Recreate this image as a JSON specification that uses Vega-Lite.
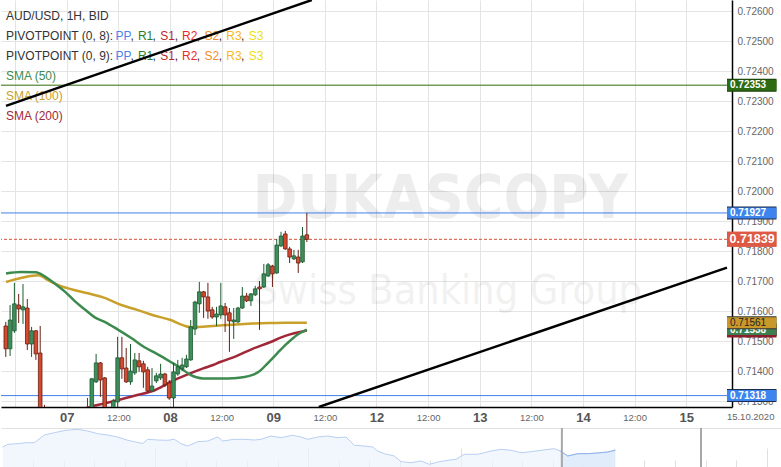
{
 "$schema": "https://vega.github.io/schema/vega-lite/v6.json",
 "padding": 0,
 "spacing": 3,
 "background": "#ffffff",
 "config": {"view": {"stroke": null}, "font": "Liberation Sans", "axis": {"labelOverlap": false}},
 "datasets": {
  "candles": [
   {"t":-14.2,"o":0.7155,"h":0.71564,"l":0.71447,"c":0.71474},
   {"t":-13.2,"o":0.71474,"h":0.7162,"l":0.7145,"c":0.7157},
   {"t":-12.2,"o":0.71534,"h":0.71694,"l":0.71527,"c":0.71624},
   {"t":-11.2,"o":0.7162,"h":0.71657,"l":0.7156,"c":0.71607},
   {"t":-10.2,"o":0.71604,"h":0.7169,"l":0.71557,"c":0.71614},
   {"t":-9.2,"o":0.7161,"h":0.7164,"l":0.7147,"c":0.7149},
   {"t":-8.2,"o":0.7149,"h":0.71547,"l":0.71447,"c":0.71534},
   {"t":-7.2,"o":0.71534,"h":0.71537,"l":0.71437,"c":0.71457},
   {"t":-6.2,"o":0.7146,"h":0.7155,"l":0.7122,"c":0.7124},
   {"t":-5.2,"o":0.7126,"h":0.71287,"l":0.712,"c":0.7123},
   {"t":4.8,"o":0.7125,"h":0.7131,"l":0.7122,"c":0.7127},
   {"t":5.8,"o":0.7125,"h":0.71377,"l":0.7123,"c":0.71374},
   {"t":6.8,"o":0.71364,"h":0.71457,"l":0.7136,"c":0.71427},
   {"t":7.8,"o":0.71427,"h":0.7143,"l":0.71314,"c":0.7137},
   {"t":8.8,"o":0.71377,"h":0.7138,"l":0.7122,"c":0.7125},
   {"t":10.8,"o":0.7126,"h":0.71307,"l":0.7124,"c":0.713},
   {"t":11.8,"o":0.71297,"h":0.71514,"l":0.7128,"c":0.71444},
   {"t":12.8,"o":0.71444,"h":0.71514,"l":0.71374,"c":0.71407},
   {"t":13.8,"o":0.7141,"h":0.71477,"l":0.7136,"c":0.71364},
   {"t":14.8,"o":0.71364,"h":0.7149,"l":0.71354,"c":0.714},
   {"t":15.8,"o":0.71394,"h":0.7146,"l":0.71387,"c":0.71437},
   {"t":16.8,"o":0.71434,"h":0.7146,"l":0.71397,"c":0.71414},
   {"t":17.8,"o":0.71424,"h":0.71434,"l":0.71344,"c":0.71397},
   {"t":18.8,"o":0.71404,"h":0.71414,"l":0.7133,"c":0.71334},
   {"t":19.8,"o":0.71334,"h":0.7141,"l":0.7133,"c":0.7135},
   {"t":20.8,"o":0.71367,"h":0.71394,"l":0.7136,"c":0.71384},
   {"t":21.8,"o":0.71377,"h":0.71424,"l":0.7137,"c":0.7139},
   {"t":22.8,"o":0.7139,"h":0.71394,"l":0.71347,"c":0.71354},
   {"t":23.8,"o":0.7136,"h":0.7137,"l":0.71304,"c":0.7131},
   {"t":24.8,"o":0.7131,"h":0.71427,"l":0.7127,"c":0.71397},
   {"t":25.8,"o":0.7139,"h":0.71437,"l":0.71384,"c":0.71414},
   {"t":26.8,"o":0.71407,"h":0.71444,"l":0.714,"c":0.7142},
   {"t":27.8,"o":0.71414,"h":0.71454,"l":0.7141,"c":0.7144},
   {"t":28.8,"o":0.71437,"h":0.7157,"l":0.71434,"c":0.71547},
   {"t":29.8,"o":0.7154,"h":0.71634,"l":0.7152,"c":0.7163},
   {"t":30.8,"o":0.71624,"h":0.71697,"l":0.71594,"c":0.71664},
   {"t":31.8,"o":0.71664,"h":0.71667,"l":0.71577,"c":0.71647},
   {"t":32.8,"o":0.71647,"h":0.71694,"l":0.71574,"c":0.716},
   {"t":33.8,"o":0.71604,"h":0.71614,"l":0.71574,"c":0.7158},
   {"t":34.8,"o":0.7158,"h":0.71614,"l":0.7155,"c":0.7159},
   {"t":35.8,"o":0.71587,"h":0.71694,"l":0.71574,"c":0.71617},
   {"t":36.8,"o":0.71614,"h":0.71627,"l":0.7153,"c":0.71587},
   {"t":37.8,"o":0.71594,"h":0.7161,"l":0.71464,"c":0.71567},
   {"t":38.8,"o":0.71564,"h":0.7161,"l":0.71507,"c":0.7157},
   {"t":39.8,"o":0.71564,"h":0.71614,"l":0.7156,"c":0.7161},
   {"t":40.8,"o":0.7161,"h":0.7168,"l":0.71607,"c":0.7165},
   {"t":41.8,"o":0.7165,"h":0.7166,"l":0.7163,"c":0.71634},
   {"t":42.8,"o":0.71634,"h":0.7166,"l":0.71617,"c":0.71657},
   {"t":43.8,"o":0.71654,"h":0.71684,"l":0.7165,"c":0.71674},
   {"t":44.8,"o":0.7168,"h":0.717,"l":0.71537,"c":0.71674},
   {"t":45.8,"o":0.7168,"h":0.71757,"l":0.71677,"c":0.71724},
   {"t":46.8,"o":0.71717,"h":0.7176,"l":0.71714,"c":0.71754},
   {"t":47.8,"o":0.7175,"h":0.71754,"l":0.7168,"c":0.71724},
   {"t":48.8,"o":0.71727,"h":0.7184,"l":0.71724,"c":0.7182},
   {"t":49.8,"o":0.71817,"h":0.71864,"l":0.71814,"c":0.7185},
   {"t":50.8,"o":0.71857,"h":0.71867,"l":0.71804,"c":0.71807},
   {"t":51.8,"o":0.71807,"h":0.71814,"l":0.7176,"c":0.7178},
   {"t":52.8,"o":0.71774,"h":0.71804,"l":0.7177,"c":0.71784},
   {"t":53.8,"o":0.7178,"h":0.71804,"l":0.71727,"c":0.7176},
   {"t":54.8,"o":0.71764,"h":0.7188,"l":0.7176,"c":0.7185},
   {"t":55.8,"o":0.71854,"h":0.71927,"l":0.7183,"c":0.71839}
  ],
  "sma": [
   {"s":"SMA200","t":1.9,"v":0.71265},
   {"s":"SMA200","t":5.8,"v":0.71282},
   {"s":"SMA200","t":8.78,"v":0.71292},
   {"s":"SMA200","t":11.08,"v":0.713},
   {"s":"SMA200","t":16.35,"v":0.7132},
   {"s":"SMA200","t":20.25,"v":0.71335},
   {"s":"SMA200","t":24.15,"v":0.71364},
   {"s":"SMA200","t":27.82,"v":0.71387},
   {"s":"SMA200","t":31.72,"v":0.71409},
   {"s":"SMA200","t":34.01,"v":0.7142},
   {"s":"SMA200","t":35.62,"v":0.7143},
   {"s":"SMA200","t":39.29,"v":0.71449},
   {"s":"SMA200","t":43.19,"v":0.71474},
   {"s":"SMA200","t":47.09,"v":0.71495},
   {"s":"SMA200","t":50.76,"v":0.71517},
   {"s":"SMA200","t":55.8,"v":0.71535},
   {"s":"SMA100","t":-14.15,"v":0.71697},
   {"s":"SMA100","t":-10.71,"v":0.7171},
   {"s":"SMA100","t":-7.96,"v":0.71718},
   {"s":"SMA100","t":-6.58,"v":0.71719},
   {"s":"SMA100","t":-4.29,"v":0.71702},
   {"s":"SMA100","t":-1.54,"v":0.71684},
   {"s":"SMA100","t":1.22,"v":0.71672},
   {"s":"SMA100","t":4.89,"v":0.71659},
   {"s":"SMA100","t":8.78,"v":0.71644},
   {"s":"SMA100","t":12.68,"v":0.7162},
   {"s":"SMA100","t":16.35,"v":0.71604},
   {"s":"SMA100","t":20.25,"v":0.71585},
   {"s":"SMA100","t":24.15,"v":0.7157},
   {"s":"SMA100","t":27.13,"v":0.71552},
   {"s":"SMA100","t":28.74,"v":0.71546},
   {"s":"SMA100","t":30.57,"v":0.71547},
   {"s":"SMA100","t":34.01,"v":0.7155},
   {"s":"SMA100","t":39.29,"v":0.71555},
   {"s":"SMA100","t":43.19,"v":0.71558},
   {"s":"SMA100","t":47.09,"v":0.7156},
   {"s":"SMA100","t":50.76,"v":0.71561},
   {"s":"SMA100","t":55.8,"v":0.71561},
   {"s":"SMA50","t":-14.15,"v":0.71725},
   {"s":"SMA50","t":-10.71,"v":0.7173},
   {"s":"SMA50","t":-7.27,"v":0.71729},
   {"s":"SMA50","t":-4.98,"v":0.71714},
   {"s":"SMA50","t":-2.68,"v":0.7169},
   {"s":"SMA50","t":-0.39,"v":0.71664},
   {"s":"SMA50","t":1.9,"v":0.71632},
   {"s":"SMA50","t":4.2,"v":0.71605},
   {"s":"SMA50","t":6.49,"v":0.71579},
   {"s":"SMA50","t":8.78,"v":0.71564},
   {"s":"SMA50","t":11.77,"v":0.71539},
   {"s":"SMA50","t":14.98,"v":0.7151},
   {"s":"SMA50","t":17.96,"v":0.7148},
   {"s":"SMA50","t":20.94,"v":0.71457},
   {"s":"SMA50","t":24.15,"v":0.7143},
   {"s":"SMA50","t":26.44,"v":0.7141},
   {"s":"SMA50","t":28.74,"v":0.71387},
   {"s":"SMA50","t":30.11,"v":0.71379},
   {"s":"SMA50","t":31.72,"v":0.71375},
   {"s":"SMA50","t":34.01,"v":0.71375},
   {"s":"SMA50","t":36.31,"v":0.71375},
   {"s":"SMA50","t":38.6,"v":0.71376},
   {"s":"SMA50","t":40.9,"v":0.71379},
   {"s":"SMA50","t":43.19,"v":0.71387},
   {"s":"SMA50","t":44.79,"v":0.71399},
   {"s":"SMA50","t":46.63,"v":0.71425},
   {"s":"SMA50","t":48.92,"v":0.71459},
   {"s":"SMA50","t":51.22,"v":0.71492},
   {"s":"SMA50","t":53.51,"v":0.7152},
   {"s":"SMA50","t":55.8,"v":0.71538}
  ],
  "trend": [
   {"line":"upper","t":-14.15,"v":0.72284},
   {"line":"upper","t":56.95,"v":0.72637},
   {"line":"lower","t":58.6,"v":0.7128},
   {"line":"lower","t":153.5,"v":0.71745}
  ],
  "tags": [
   {"name":"R1","price":0.72353},
   {"name":"PP9","price":0.71927},
   {"name":"PP8","price":0.71318},
   {"name":"BID","price":0.71839},
   {"name":"SMA200","price":0.71533},
   {"name":"SMA50","price":0.71538},
   {"name":"SMA100","price":0.71561}
  ],
  "legend": [
   {"row":"r0","text":"AUD/USD, 1H, BID","kind":"plain"},
   {"row":"r1","text":"PIVOTPOINT (0, 8):","kind":"plain"},
   {"row":"r2","text":"PIVOTPOINT (0, 9):","kind":"plain"},
   {"row":"r3","text":"SMA (50)","kind":"SMA50"},
   {"row":"r4","text":"SMA (100)","kind":"SMA100"},
   {"row":"r5","text":"SMA (200)","kind":"SMA200"}
  ],
  "pivots": [
   {"row":"r1","item":"PP"},{"row":"r1","item":"R1"},{"row":"r1","item":"S1"},{"row":"r1","item":"R2"},{"row":"r1","item":"S2"},{"row":"r1","item":"R3"},{"row":"r1","item":"S3"},
   {"row":"r2","item":"PP"},{"row":"r2","item":"R1"},{"row":"r2","item":"S1"},{"row":"r2","item":"R2"},{"row":"r2","item":"S2"},{"row":"r2","item":"R3"},{"row":"r2","item":"S3"}
  ],
  "watermark": [{"brand":"DUKASCOPY","tagline":"Swiss Banking Group"}],
  "stamp": [{"date":"15.10.2020"}],
  "nav": [
   {"d":0.009,"v":0.721},{"d":0.172,"v":0.7237},{"d":0.5,"v":0.7243},{"d":0.771,"v":0.7253},{"d":1.043,"v":0.7253},
   {"d":1.37,"v":0.733},{"d":1.697,"v":0.7353},{"d":2.08,"v":0.7377},{"d":2.462,"v":0.7387},{"d":2.789,"v":0.737},
   {"d":3.116,"v":0.7343},{"d":3.444,"v":0.733},{"d":3.771,"v":0.731},{"d":4.098,"v":0.7277},{"d":4.314,"v":0.7263},
   {"d":4.589,"v":0.7245},{"d":4.752,"v":0.7287},{"d":5.079,"v":0.728},{"d":5.406,"v":0.7277},{"d":5.622,"v":0.7287},
   {"d":5.841,"v":0.7243},{"d":6.06,"v":0.722},{"d":6.388,"v":0.7263},{"d":6.715,"v":0.727},{"d":7.042,"v":0.731},
   {"d":7.205,"v":0.727},{"d":7.585,"v":0.7287},{"d":7.912,"v":0.7287},{"d":8.239,"v":0.728},{"d":8.458,"v":0.7287},
   {"d":8.785,"v":0.732},{"d":9.112,"v":0.7303},{"d":9.495,"v":0.7327},{"d":9.767,"v":0.731},{"d":9.986,"v":0.7287},
   {"d":10.313,"v":0.731},{"d":10.64,"v":0.732},{"d":10.967,"v":0.7303},{"d":11.239,"v":0.731},{"d":11.51,"v":0.7227},
   {"d":11.837,"v":0.722},{"d":12.112,"v":0.721},{"d":12.276,"v":0.717},{"d":12.492,"v":0.7143},{"d":12.819,"v":0.712},
   {"d":13.038,"v":0.7063},{"d":13.365,"v":0.7053},{"d":13.692,"v":0.707},{"d":13.964,"v":0.7037},{"d":14.239,"v":0.706},
   {"d":14.566,"v":0.7077},{"d":14.837,"v":0.7087},{"d":15.109,"v":0.7137},{"d":15.547,"v":0.7137},{"d":15.763,"v":0.7153},
   {"d":15.982,"v":0.717},{"d":16.309,"v":0.7187},{"d":16.636,"v":0.7177},{"d":16.963,"v":0.7153},{"d":17.29,"v":0.7163},
   {"d":17.617,"v":0.7177},{"d":18.052,"v":0.7193},{"d":18.249,"v":0.717},{"d":18.491,"v":0.712},{"d":18.818,"v":0.7143},
   {"d":19.145,"v":0.7143},{"d":19.472,"v":0.715},{"d":19.798,"v":0.716},{"d":20.047,"v":0.7177}
  ],
  "navWindow": [{"edge":"from","d":18.3},{"edge":"to","d":22.85}]
 },
 "vconcat": [
  {
   "width": 731,
   "height": 407,
   "layer": [
    {
     "layer": [
      {
       "data": {"name": "legend"},
       "mark": {"type": "text", "align": "left", "baseline": "middle", "dx": -117.5, "fontSize": 12},
       "encoding": {
        "x": {"datum": "PP", "type": "ordinal", "scale": {"type": "point", "domain": ["PP","R1","S1","R2","S2","R3","S3"], "range": [122.5, 255], "padding": 0}, "axis": null, "title": null},
        "y": {"field": "row", "type": "ordinal", "scale": {"type": "point", "domain": ["r0","r1","r2","r3","r4","r5"], "range": [15.5, 115.5], "padding": 0}, "axis": null, "title": null},
        "text": {"field": "text"},
        "color": {"condition": [{"test": "datum.kind==='SMA50'", "value": "#3d8a4f"}, {"test": "datum.kind==='SMA100'", "value": "#c9a02a"}, {"test": "datum.kind==='SMA200'", "value": "#a02838"}], "value": "#333333"}
       }
      },
      {
       "data": {"name": "pivots"},
       "mark": {"type": "text", "align": "center", "baseline": "middle", "fontSize": 12},
       "encoding": {
        "x": {"field": "item", "type": "ordinal", "scale": {"type": "point", "domain": ["PP","R1","S1","R2","S2","R3","S3"], "range": [122.5, 255], "padding": 0}, "axis": null, "title": null},
        "y": {"field": "row", "type": "ordinal", "scale": {"type": "point", "domain": ["r0","r1","r2","r3","r4","r5"], "range": [15.5, 115.5], "padding": 0}, "axis": null, "title": null},
        "text": {"field": "item"},
        "color": {"condition": [{"test": "datum.item==='PP'", "value": "#4a86e8"}, {"test": "datum.item==='R1'", "value": "#2f7d1f"}, {"test": "datum.item==='S1'", "value": "#b8282e"}, {"test": "datum.item==='R2'", "value": "#ec2a2a"}, {"test": "datum.item==='S2'", "value": "#f28c28"}, {"test": "datum.item==='R3'", "value": "#f6b915"}], "value": "#eedf10"}
       }
      },
      {
       "data": {"name": "pivots"},
       "transform": [{"filter": "datum.item !== 'S3'"}],
       "mark": {"type": "text", "align": "left", "baseline": "middle", "dx": 7, "fontSize": 12, "color": "#333333"},
       "encoding": {
        "x": {"field": "item", "type": "ordinal", "scale": {"type": "point", "domain": ["PP","R1","S1","R2","S2","R3","S3"], "range": [122.5, 255], "padding": 0}, "axis": null, "title": null},
        "y": {"field": "row", "type": "ordinal", "scale": {"type": "point", "domain": ["r0","r1","r2","r3","r4","r5"], "range": [15.5, 115.5], "padding": 0}, "axis": null, "title": null},
        "text": {"value": ","}
       }
      }
     ]
    },
    {
     "layer": [
      {
       "data": {"name": "watermark"},
       "mark": {"type": "text", "align": "left", "baseline": "alphabetic", "fontSize": 60, "fontWeight": "bold", "font": "DejaVu Sans Condensed, Liberation Sans", "color": "#000000", "opacity": 0.065},
       "encoding": {
        "x": {"datum": 43.2, "type": "quantitative", "scale": {"domain": [-14.15, 153.5], "nice": false, "zero": false}, "title": null,
         "axis": {
          "values": [-12,0,12,24,36,48,60,72,84,96,108,120,132,144],
          "tickCount": 40,
          "labelExpr": "datum.value===0?'07':datum.value===24?'08':datum.value===48?'09':datum.value===72?'12':datum.value===96?'13':datum.value===120?'14':datum.value===144?'15':datum.value<0?'':'12:00'",
          "labelFontWeight": {"condition": {"test": "datum.value % 24 === 0", "value": "bold"}, "value": "normal"},
          "labelFontSize": {"condition": {"test": "datum.value % 24 === 0", "value": 13}, "value": 9.5},
          "labelColor": {"condition": {"test": "datum.value % 24 === 0", "value": "#555555"}, "value": "#666666"},
          "labelBaseline": "middle", "labelPadding": 10, "ticks": false, "tickSize": 0,
          "domainColor": "#000000", "domainWidth": 1.5,
          "grid": true, "gridColor": "#e4e4e4", "gridWidth": 1,
          "labelFlush": false, "labelOverlap": false, "title": null
         }},
        "y": {"datum": 0.7191, "type": "quantitative", "scale": {"domain": [0.7128, 0.72637], "nice": false, "zero": false}, "title": null,
         "axis": {
          "orient": "right",
          "values": [0.713,0.714,0.715,0.716,0.717,0.718,0.719,0.72,0.721,0.722,0.723,0.724,0.725,0.726],
          "tickCount": 40,
          "format": ".5f", "labelFontSize": 10, "labelColor": "#666666", "labelPadding": 5,
          "ticks": false, "tickSize": 0, "domainColor": "#000000", "domainWidth": 1.5,
          "grid": true, "gridColor": "#e4e4e4",
          "labelFlush": false, "labelOverlap": false, "title": null
         }},
        "text": {"field": "brand"}
       }
      },
      {
       "data": {"name": "watermark"},
       "mark": {"type": "text", "align": "left", "baseline": "alphabetic", "fontSize": 41, "font": "DejaVu Sans Condensed, Liberation Sans", "color": "#000000", "opacity": 0.05},
       "encoding": {
        "x": {"datum": 43.6, "type": "quantitative", "scale": {"domain": [-14.15, 153.5], "nice": false, "zero": false}, "title": null},
        "y": {"datum": 0.71624, "type": "quantitative", "scale": {"domain": [0.7128, 0.72637], "nice": false, "zero": false}, "title": null},
        "text": {"field": "tagline"}
       }
      },
      {
       "data": {"name": "tags"},
       "transform": [{"filter": "datum.name==='R1' || datum.name==='PP9' || datum.name==='PP8'"}],
       "mark": {"type": "rule", "strokeWidth": 1},
       "encoding": {
        "y": {"field": "price", "type": "quantitative", "scale": {"domain": [0.7128, 0.72637], "nice": false, "zero": false}, "title": null},
        "color": {"condition": {"test": "datum.name==='R1'", "value": "#2e6b10"}, "value": "#3f80ea"}
       }
      },
      {
       "data": {"name": "tags"},
       "transform": [{"filter": "datum.name==='BID'"}],
       "mark": {"type": "rule", "strokeWidth": 1, "strokeDash": [3, 2], "color": "#d3523d"},
       "encoding": {
        "y": {"field": "price", "type": "quantitative", "scale": {"domain": [0.7128, 0.72637], "nice": false, "zero": false}, "title": null}
       }
      },
      {
       "data": {"name": "sma"},
       "mark": {"type": "line", "strokeWidth": 2.5, "interpolate": "monotone", "clip": true},
       "encoding": {
        "x": {"field": "t", "type": "quantitative", "scale": {"domain": [-14.15, 153.5], "nice": false, "zero": false}, "title": null},
        "y": {"field": "v", "type": "quantitative", "scale": {"domain": [0.7128, 0.72637], "nice": false, "zero": false}, "title": null},
        "color": {"field": "s", "type": "nominal", "scale": {"domain": ["SMA200", "SMA100", "SMA50"], "range": ["#a02838", "#c9a02a", "#3d8a4f"]}, "legend": null},
        "order": {"field": "t", "type": "quantitative"}
       }
      },
      {
       "data": {"name": "candles"},
       "mark": {"type": "rule", "strokeWidth": 1, "clip": true},
       "encoding": {
        "x": {"field": "t", "type": "quantitative", "scale": {"domain": [-14.15, 153.5], "nice": false, "zero": false}, "title": null},
        "y": {"field": "l", "type": "quantitative", "scale": {"domain": [0.7128, 0.72637], "nice": false, "zero": false}, "title": null},
        "y2": {"field": "h"},
        "color": {"condition": {"test": "datum.c >= datum.o", "value": "#1c5a30"}, "value": "#6b1d12"}
       }
      },
      {
       "data": {"name": "candles"},
       "mark": {"type": "bar", "width": 3.6, "strokeWidth": 0.8, "clip": true},
       "encoding": {
        "x": {"field": "t", "type": "quantitative", "scale": {"domain": [-14.15, 153.5], "nice": false, "zero": false}, "title": null},
        "y": {"field": "o", "type": "quantitative", "scale": {"domain": [0.7128, 0.72637], "nice": false, "zero": false}, "title": null},
        "y2": {"field": "c"},
        "fill": {"condition": {"test": "datum.c >= datum.o", "value": "#3f8d5b"}, "value": "#d24a30"},
        "stroke": {"condition": {"test": "datum.c >= datum.o", "value": "#1c5a30"}, "value": "#6b1d12"}
       }
      },
      {
       "data": {"name": "trend"},
       "mark": {"type": "line", "strokeWidth": 2.4, "color": "#000000", "clip": true},
       "encoding": {
        "x": {"field": "t", "type": "quantitative", "scale": {"domain": [-14.15, 153.5], "nice": false, "zero": false}, "title": null},
        "y": {"field": "v", "type": "quantitative", "scale": {"domain": [0.7128, 0.72637], "nice": false, "zero": false}, "title": null},
        "detail": {"field": "line", "type": "nominal"}
       }
      },
      {
       "data": {"name": "tags"},
       "transform": [{"filter": "datum.name==='SMA200' || datum.name==='SMA50'"}],
       "mark": {"type": "rule", "strokeCap": "butt", "strokeWidth": 13, "clip": false},
       "encoding": {
        "x": {"datum": 153.5, "type": "quantitative", "scale": {"domain": [-14.15, 153.5], "nice": false, "zero": false}, "title": null},
        "x2": {"datum": 165},
        "y": {"field": "price", "type": "quantitative", "scale": {"domain": [0.7128, 0.72637], "nice": false, "zero": false}, "title": null},
        "color": {"condition": {"test": "datum.name==='SMA50'", "value": "#204a2c"}, "value": "#8c1f2d"}
       }
      },
      {
       "data": {"name": "tags"},
       "transform": [{"filter": "datum.name==='SMA200' || datum.name==='SMA50'"}],
       "mark": {"type": "rule", "strokeCap": "butt", "strokeWidth": 11, "clip": false},
       "encoding": {
        "x": {"datum": 153.5, "type": "quantitative", "scale": {"domain": [-14.15, 153.5], "nice": false, "zero": false}, "title": null},
        "x2": {"datum": 165},
        "y": {"field": "price", "type": "quantitative", "scale": {"domain": [0.7128, 0.72637], "nice": false, "zero": false}, "title": null},
        "color": {"condition": {"test": "datum.name==='SMA50'", "value": "#3d7f4f"}, "value": "#8c1f2d"}
       }
      },
      {
       "data": {"name": "tags"},
       "transform": [{"filter": "datum.name==='SMA50'"}],
       "mark": {"type": "text", "align": "left", "baseline": "middle", "dx": 3, "fontSize": 10, "fontWeight": "bold", "color": "#ffffff", "clip": false},
       "encoding": {
        "x": {"datum": 153.5, "type": "quantitative", "scale": {"domain": [-14.15, 153.5], "nice": false, "zero": false}, "title": null},
        "y": {"field": "price", "type": "quantitative", "scale": {"domain": [0.7128, 0.72637], "nice": false, "zero": false}, "title": null},
        "text": {"field": "price", "format": ".5f"}
       }
      },
      {
       "data": {"name": "tags"},
       "transform": [{"filter": "datum.name!=='SMA200' && datum.name!=='SMA50'"}],
       "mark": {"type": "rule", "strokeCap": "butt", "clip": false},
       "encoding": {
        "x": {"datum": 153.5, "type": "quantitative", "scale": {"domain": [-14.15, 153.5], "nice": false, "zero": false}, "title": null},
        "x2": {"datum": 165},
        "y": {"field": "price", "type": "quantitative", "scale": {"domain": [0.7128, 0.72637], "nice": false, "zero": false}, "title": null},
        "strokeWidth": {"condition": {"test": "datum.name==='BID'", "value": 15}, "value": 13},
        "color": {"condition": [{"test": "datum.name==='R1'", "value": "#173f06"}, {"test": "datum.name==='BID'", "value": "#dd5944"}, {"test": "datum.name==='SMA100'", "value": "#333333"}], "value": "#1c2c4c"}
       }
      },
      {
       "data": {"name": "tags"},
       "transform": [{"filter": "datum.name!=='SMA200' && datum.name!=='SMA50'"}],
       "mark": {"type": "rule", "strokeCap": "butt", "clip": false},
       "encoding": {
        "x": {"datum": 153.5, "type": "quantitative", "scale": {"domain": [-14.15, 153.5], "nice": false, "zero": false}, "title": null},
        "x2": {"datum": 165},
        "y": {"field": "price", "type": "quantitative", "scale": {"domain": [0.7128, 0.72637], "nice": false, "zero": false}, "title": null},
        "strokeWidth": {"condition": {"test": "datum.name==='BID'", "value": 15}, "value": 11},
        "color": {"condition": [{"test": "datum.name==='R1'", "value": "#2d6a12"}, {"test": "datum.name==='BID'", "value": "#dd5944"}, {"test": "datum.name==='SMA100'", "value": "#c8992a"}], "value": "#3d84ee"}
       }
      },
      {
       "data": {"name": "tags"},
       "transform": [{"filter": "datum.name==='R1' || datum.name==='PP9' || datum.name==='PP8'"}],
       "mark": {"type": "text", "align": "left", "baseline": "middle", "dx": 3, "fontSize": 10, "fontWeight": "bold", "color": "#ffffff", "clip": false},
       "encoding": {
        "x": {"datum": 153.5, "type": "quantitative", "scale": {"domain": [-14.15, 153.5], "nice": false, "zero": false}, "title": null},
        "y": {"field": "price", "type": "quantitative", "scale": {"domain": [0.7128, 0.72637], "nice": false, "zero": false}, "title": null},
        "text": {"field": "price", "format": ".5f"}
       }
      },
      {
       "data": {"name": "tags"},
       "transform": [{"filter": "datum.name==='BID'"}],
       "mark": {"type": "text", "align": "left", "baseline": "middle", "dx": 2.5, "fontSize": 12.5, "fontWeight": "bold", "color": "#ffffff", "clip": false},
       "encoding": {
        "x": {"datum": 153.5, "type": "quantitative", "scale": {"domain": [-14.15, 153.5], "nice": false, "zero": false}, "title": null},
        "y": {"field": "price", "type": "quantitative", "scale": {"domain": [0.7128, 0.72637], "nice": false, "zero": false}, "title": null},
        "text": {"field": "price", "format": ".5f"}
       }
      },
      {
       "data": {"name": "tags"},
       "transform": [{"filter": "datum.name==='SMA100'"}],
       "mark": {"type": "text", "align": "left", "baseline": "middle", "dx": 3, "fontSize": 10, "color": "#222222", "clip": false},
       "encoding": {
        "x": {"datum": 153.5, "type": "quantitative", "scale": {"domain": [-14.15, 153.5], "nice": false, "zero": false}, "title": null},
        "y": {"field": "price", "type": "quantitative", "scale": {"domain": [0.7128, 0.72637], "nice": false, "zero": false}, "title": null},
        "text": {"field": "price", "format": ".5f"}
       }
      },
      {
       "data": {"name": "stamp"},
       "mark": {"type": "text", "align": "center", "baseline": "middle", "fontSize": 9.5, "color": "#666666", "clip": false},
       "encoding": {
        "x": {"datum": 159, "type": "quantitative", "scale": {"domain": [-14.15, 153.5], "nice": false, "zero": false}, "title": null},
        "y": {"datum": 0.71247, "type": "quantitative", "scale": {"domain": [0.7128, 0.72637], "nice": false, "zero": false}, "title": null},
        "text": {"field": "date"}
       }
      }
     ]
    }
   ],
   "resolve": {"scale": {"x": "independent", "y": "independent"}, "axis": {"x": "independent", "y": "independent"}}
  },
  {
   "width": 781,
   "height": 40,
   "layer": [
    {
     "data": {"name": "nav"},
     "mark": {"type": "area", "color": "#edf3fd", "line": {"color": "#b9cff3", "strokeWidth": 1}},
     "encoding": {
      "x": {"field": "d", "type": "quantitative", "scale": {"domain": [-0.047, 25.5], "nice": false, "zero": false}, "title": null,
       "axis": {"orient": "bottom", "values": [1,2,3,4,5,6,7,8,9,10,11,12,13,14,15,16,17,18,19,20,21,22,23,24,25], "tickCount": 60, "labels": false, "domain": false, "grid": false, "ticks": true, "tickColor": "#e0e0e0", "tickWidth": 1,
        "tickSize": {"condition": {"test": "datum.value % 5 === 0", "value": -20}, "value": -8}, "title": null}},
      "y": {"field": "v", "type": "quantitative", "scale": {"domain": [0.7, 0.74], "nice": false, "zero": false}, "axis": null, "title": null}
     }
    },
    {
     "data": {"name": "nav"},
     "transform": [{"filter": "datum.d >= 18.24"}],
     "mark": {"type": "area", "color": "#dce8fb", "line": {"color": "#8db2ee", "strokeWidth": 1}},
     "encoding": {
      "x": {"field": "d", "type": "quantitative", "scale": {"domain": [-0.047, 25.5], "nice": false, "zero": false}, "title": null, "axis": null},
      "y": {"field": "v", "type": "quantitative", "scale": {"domain": [0.7, 0.74], "nice": false, "zero": false}, "axis": null, "title": null}
     }
    },
    {
     "data": {"name": "navWindow"},
     "mark": {"type": "rule", "color": "#a8a8a8", "strokeWidth": 2},
     "encoding": {
      "x": {"field": "d", "type": "quantitative", "scale": {"domain": [-0.047, 25.5], "nice": false, "zero": false}, "title": null,
       "axis": {"orient": "top", "labels": false, "ticks": false, "grid": false, "domain": true, "domainColor": "#e2e2e2", "title": null}}
     }
    }
   ],
   "resolve": {"axis": {"x": "independent"}}
  }
 ]
}
